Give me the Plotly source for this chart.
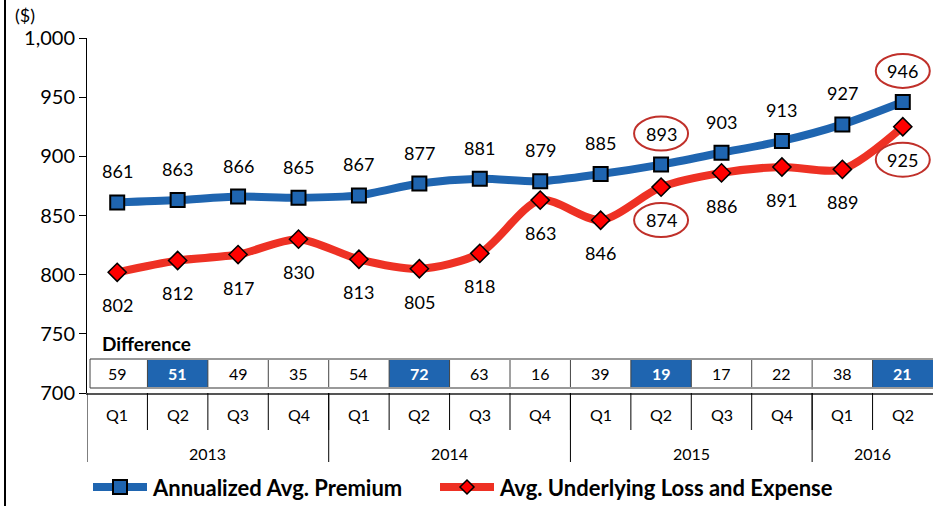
import plotly.graph_objects as go

quarters = ["Q1", "Q2", "Q3", "Q4", "Q1", "Q2", "Q3", "Q4", "Q1", "Q2", "Q3", "Q4", "Q1", "Q2"]
years = ["2013", "2014", "2015", "2016"]
year_counts = [4, 4, 4, 2]
premium = [861, 863, 866, 865, 867, 877, 881, 879, 885, 893, 903, 913, 927, 946]
loss = [802, 812, 817, 830, 813, 805, 818, 863, 846, 874, 886, 891, 889, 925]
difference = [59, 51, 49, 35, 54, 72, 63, 16, 39, 19, 17, 22, 38, 21]
highlight = [1, 5, 9, 13]
circled_premium = [9, 13]
circled_loss = [9, 13]
y_ticks = [700, 750, 800, 850, 900, 950, 1000]

W, H = 933, 506
L, R, T, B = 87, 0, 38, 113
PW, PH = W - L - R, H - T - B
Y0, Y1 = 700, 1000


def px(x):
    return (x - L) / PW


def py(y):
    return (H - B - y) / PH


def yval(pix):
    return Y1 - (pix - T) / PH * (Y1 - Y0)


BLUE = "#1f65b0"
RED = "#ee3124"
FONT = "Lato"
n = len(quarters)
xs = list(range(n))

fig = go.Figure()
fig.add_trace(go.Scatter(
    x=xs, y=premium, mode="lines+markers", name="Annualized Avg. Premium",
    line=dict(color=BLUE, width=8, shape="spline", smoothing=0.8),
    marker=dict(symbol="square", size=14, color=BLUE, line=dict(color="black", width=2)),
    showlegend=False, cliponaxis=False, hoverinfo="skip"))
fig.add_trace(go.Scatter(
    x=xs, y=loss, mode="lines+markers", name="Avg. Underlying Loss and Expense",
    line=dict(color=RED, width=8, shape="spline", smoothing=0.8),
    marker=dict(symbol="diamond", size=14, color="#ff0000", line=dict(color="black", width=1.5)),
    showlegend=False, cliponaxis=False, hoverinfo="skip"))

ann = []
shapes = []
for i in xs:
    ann.append(dict(x=i, y=premium[i], text=str(premium[i]), showarrow=False, yshift=31, yanchor="middle",
                    font=dict(family=FONT, size=18, color="black")))
    ann.append(dict(x=i, y=loss[i], text=str(loss[i]), showarrow=False, yshift=-33, yanchor="middle",
                    font=dict(family=FONT, size=18, color="black")))

# ellipses around highlighted labels
for i in circled_premium:
    shapes.append(dict(type="circle", xref="x", yref="y", xsizemode="pixel", ysizemode="pixel",
                       xanchor=i, yanchor=premium[i], x0=-27, x1=27, y0=31 - 17, y1=31 + 17,
                       line=dict(color="#c0302a", width=2)))
for i in circled_loss:
    shapes.append(dict(type="circle", xref="x", yref="y", xsizemode="pixel", ysizemode="pixel",
                       xanchor=i, yanchor=loss[i], x0=-27, x1=27, y0=-33 - 17, y1=-33 + 17,
                       line=dict(color="#c0302a", width=2)))

# Difference table
cell_top, cell_bot = yval(359), yval(388)
for i in xs:
    if i in highlight:
        shapes.append(dict(type="rect", xref="x", yref="y", x0=i - 0.5, x1=i + 0.5,
                           y0=cell_bot, y1=cell_top, fillcolor=BLUE, line=dict(width=0), layer="below"))
    ann.append(dict(x=i, y=(cell_top + cell_bot) / 2, yanchor="middle",
                    text=(f"<b>{difference[i]}</b>" if i in highlight else str(difference[i])),
                    showarrow=False, font=dict(family=FONT, size=16, color="white" if i in highlight else "black")))
    if i > 0:
        shapes.append(dict(type="line", xref="x", yref="y", x0=i - 0.5, x1=i - 0.5, y0=cell_bot, y1=cell_top,
                           line=dict(color="#444", width=1)))
shapes.append(dict(type="line", xref="x", yref="y", x0=-0.45, x1=n - 0.5, y0=cell_top, y1=cell_top,
                   line=dict(color="#999", width=2)))
shapes.append(dict(type="line", xref="x", yref="y", x0=-0.45, x1=n - 0.5, y0=cell_bot, y1=cell_bot,
                   line=dict(color="#999", width=2)))
shapes.append(dict(type="line", xref="x", yref="y", x0=-0.45, x1=-0.45, y0=cell_bot, y1=cell_top,
                   line=dict(color="#444", width=1)))
ann.append(dict(x=-0.29, y=yval(343), text="<b>Difference</b>", showarrow=False, xanchor="left", yanchor="middle",
                font=dict(family=FONT, size=19, color="black")))

# Category axis labels
for i in xs:
    ann.append(dict(x=i, y=0, yref="paper", text=quarters[i], showarrow=False, yshift=-21, yanchor="middle",
                    font=dict(family=FONT, size=16, color="black")))
    if i > 0:
        shapes.append(dict(type="line", xref="x", yref="paper", x0=i - 0.5, x1=i - 0.5, y0=0, y1=py(430),
                           line=dict(color="black", width=1)))
start = 0
for yr, c in zip(years, year_counts):
    ann.append(dict(x=start + (c - 1) / 2, y=0, yref="paper", text=yr, showarrow=False, yshift=-60, yanchor="middle",
                    font=dict(family=FONT, size=16, color="black")))
    if start < n:
        shapes.append(dict(type="line", xref="x", yref="paper", x0=start - 0.5, x1=start - 0.5, y0=0, y1=py(462),
                           line=dict(color="black", width=1)))
    start += c

# ($) label
ann.append(dict(x=px(13), y=py(15), xref="paper", yref="paper", text="($)", showarrow=False,
                xanchor="left", yanchor="middle", font=dict(family=FONT, size=18, color="black")))

# frame left border
shapes.append(dict(type="line", xref="paper", yref="paper", x0=px(5), x1=px(5), y0=py(0), y1=py(506),
                   line=dict(color="black", width=2)))

# custom legend
ly = py(487)
shapes.append(dict(type="line", xref="paper", yref="paper", x0=px(93), x1=px(147), y0=ly, y1=ly,
                   line=dict(color=BLUE, width=8)))
shapes.append(dict(type="rect", xref="paper", yref="paper", xsizemode="pixel", ysizemode="pixel",
                   xanchor=px(120), yanchor=ly, x0=-7, x1=7, y0=-7, y1=7,
                   fillcolor=BLUE, line=dict(color="black", width=2)))
ann.append(dict(x=px(150), y=ly, xref="paper", yref="paper", text="<b>Annualized Avg. Premium</b>",
                showarrow=False, xanchor="left", yanchor="middle", font=dict(family=FONT, size=22, color="black")))
shapes.append(dict(type="line", xref="paper", yref="paper", x0=px(440), x1=px(494), y0=ly, y1=ly,
                   line=dict(color=RED, width=8)))
shapes.append(dict(type="path", xref="paper", yref="paper", xsizemode="pixel", ysizemode="pixel",
                   xanchor=px(467), yanchor=ly, path="M -7 0 L 0 7 L 7 0 L 0 -7 Z",
                   fillcolor="#ff0000", line=dict(color="black", width=1.5)))
ann.append(dict(x=px(497), y=ly, xref="paper", yref="paper", text="<b>Avg. Underlying Loss and Expense</b>",
                showarrow=False, xanchor="left", yanchor="middle", font=dict(family=FONT, size=22, color="black")))

fig.update_layout(
    width=W, height=H, margin=dict(l=L, r=R, t=T, b=B),
    paper_bgcolor="white", plot_bgcolor="white",
    annotations=ann, shapes=shapes, showlegend=False,
    xaxis=dict(range=[-0.5, n - 0.5], showticklabels=False, showgrid=False, zeroline=False,
               showline=True, linecolor="#555", linewidth=2, ticks=""),
    yaxis=dict(range=[Y0, Y1], tickvals=y_ticks, ticktext=[f"{v:,}" for v in y_ticks],
               showgrid=False, zeroline=False, showline=True, linecolor="black", linewidth=1,
               ticks="outside", ticklen=7, tickcolor="black",
               tickfont=dict(family=FONT, size=20, color="black")),
)
fig.write_html("out.html", config={"displayModeBar": False},
               post_script="document.body.style.margin='0';document.body.style.overflow='hidden';")
